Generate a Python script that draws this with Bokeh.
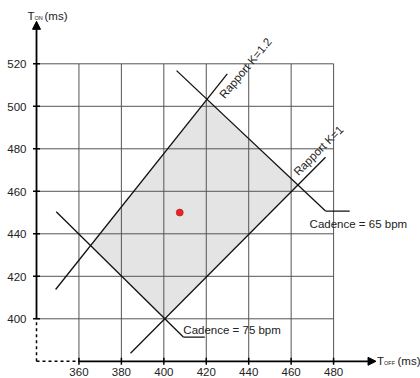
import math
from bokeh.plotting import figure
from bokeh.models import Arrow, NormalHead
from bokeh.core.properties import value
from bokeh.embed import file_html
from bokeh.resources import INLINE

# ---- data ----
x_ticks = [360, 380, 400, 420, 440, 460, 480]
y_ticks = [400, 420, 440, 460, 480, 500, 520]
x_tick_labels = [str(v) for v in x_ticks]
y_tick_labels = [str(v) for v in y_ticks]

origin_x, origin_y = 340, 380       # where the dashed axes meet
grid_x_max, grid_y_max = 480, 520
axis_x_end, axis_y_end = 500, 540

# Cadence lines (T_on + T_off ~ const)
cad75_x = [349.3, 409.2]
cad75_y = [450.4, 391.4]
cad75_leader_x = [409.2, 419.3]
cad65_x = [406.0, 476.2]
cad65_y = [516.8, 450.7]
cad65_leader_x = [476.2, 487.6]

# Rapport lines (T_on / T_off)
k1_x = [384.3, 476.2]
k1_y = [383.8, 476.0]
k12_x = [349.0, 429.9]
k12_y = [413.8, 515.3]

# Allowed zone (intersection of the four lines)
zone_x = [400.0, 463.1, 420.4, 365.5]
zone_y = [400.0, 463.1, 503.2, 434.5]

# Measured point
point_x = [407.5]
point_y = [450.0]

FONT = value("Liberation Sans")
TXT = "#222222"
FS = "11.5px"

p = figure(width=420, height=378, x_range=(323.03, 520.96), y_range=(371.91, 549.79),
           x_axis_type=None, y_axis_type=None, toolbar_location=None,
           output_backend="svg", min_border=0)
p.outline_line_color = None
p.xgrid.visible = False
p.ygrid.visible = False
p.background_fill_color = "white"

# zone
p.patch(zone_x, zone_y, fill_color="#e4e4e4", line_color=None)

# grid
p.segment(x0=x_ticks, y0=[origin_y] * len(x_ticks), x1=x_ticks, y1=[grid_y_max] * len(x_ticks),
          line_color="#555555", line_width=1)
p.segment(x0=[origin_x] * len(y_ticks), y0=y_ticks, x1=[grid_x_max] * len(y_ticks), y1=y_ticks,
          line_color="#555555", line_width=1)

# dashed axis parts near origin
p.line([origin_x, origin_x], [origin_y, y_ticks[0]], line_color="black", line_width=1.5, line_dash="3 3")
p.line([origin_x, x_ticks[0]], [origin_y, origin_y], line_color="black", line_width=1.5, line_dash="3 3")

# solid axes with arrows
p.add_layout(Arrow(end=NormalHead(size=8, fill_color="black", line_color="black"),
                   x_start=origin_x, y_start=y_ticks[0], x_end=origin_x, y_end=axis_y_end,
                   line_color="black", line_width=1.8))
p.add_layout(Arrow(end=NormalHead(size=8, fill_color="black", line_color="black"),
                   x_start=x_ticks[0], y_start=origin_y, x_end=axis_x_end, y_end=origin_y,
                   line_color="black", line_width=1.8))

# tick marks
p.scatter(x_ticks, [origin_y] * len(x_ticks), marker="dash", angle=math.pi / 2, size=7,
          line_color="black", line_width=1.5)
p.scatter([origin_x] * len(y_ticks), y_ticks, marker="dash", size=7,
          line_color="black", line_width=1.5)

# tick labels
p.text(x=x_ticks, y=[origin_y] * len(x_ticks), text=x_tick_labels, text_align="center",
       text_baseline="alphabetic", y_offset=11, text_font=FONT, text_font_size=FS, text_color=TXT)
p.text(x=[origin_x] * len(y_ticks), y=y_ticks, text=y_tick_labels, text_align="right",
       text_baseline="alphabetic", x_offset=-10, y_offset=0.5, text_font=FONT, text_font_size=FS,
       text_color=TXT)

# axis titles
p.text(x=[origin_x], y=[axis_y_end], text=["T"], x_offset=-9, y_offset=-5.5,
       text_baseline="alphabetic", text_font=FONT, text_font_size=FS, text_color=TXT)
p.text(x=[origin_x], y=[axis_y_end], text=["ON"], x_offset=-2, y_offset=-3.5,
       text_baseline="alphabetic", text_font=FONT, text_font_size="5.5px", text_color=TXT)
p.text(x=[origin_x], y=[axis_y_end], text=["(ms)"], x_offset=8, y_offset=-5.5,
       text_baseline="alphabetic", text_font=FONT, text_font_size=FS, text_color=TXT)

p.text(x=[axis_x_end], y=[origin_y], text=["T"], x_offset=1, y_offset=-0.5,
       text_baseline="alphabetic", text_font=FONT, text_font_size=FS, text_color=TXT)
p.text(x=[axis_x_end], y=[origin_y], text=["OFF"], x_offset=8, y_offset=1.5,
       text_baseline="alphabetic", text_font=FONT, text_font_size="5.5px", text_color=TXT)
p.text(x=[axis_x_end], y=[origin_y], text=["(ms)"], x_offset=21.5, y_offset=-0.5,
       text_baseline="alphabetic", text_font=FONT, text_font_size=FS, text_color=TXT)

# lines
for xs, ys in [(cad75_x, cad75_y), (cad65_x, cad65_y), (k1_x, k1_y), (k12_x, k12_y)]:
    p.line(xs, ys, line_color="#111111", line_width=1.3)
p.line(cad75_leader_x, [cad75_y[1]] * 2, line_color="#111111", line_width=1.3)
p.line(cad65_leader_x, [cad65_y[1]] * 2, line_color="#111111", line_width=1.3)

# line labels
p.text(x=[cad75_leader_x[0]], y=[cad75_y[1]], text=["Cadence = 75 bpm"], y_offset=-6.7,
       text_baseline="alphabetic", text_font=FONT, text_font_size=FS, text_color=TXT)
p.text(x=[468.7], y=[cad65_y[1]], text=["Cadence = 65 bpm"], y_offset=13,
       text_baseline="alphabetic", text_font=FONT, text_font_size=FS, text_color=TXT)
p.text(x=[438.5], y=[518.0], text=["Rapport K=1.2"], angle=math.atan(1.2),
       text_align="center", text_baseline="middle", text_font=FONT, text_font_size=FS, text_color=TXT)
p.text(x=[472.9], y=[479.2], text=["Rapport K=1"], angle=math.pi / 4,
       text_align="center", text_baseline="middle", text_font=FONT, text_font_size=FS, text_color=TXT)

# point
p.scatter(point_x, point_y, size=7, fill_color="#e8262a", line_color="#b01010", line_width=0.6)

open("out.html", "w").write(file_html(p, INLINE))
